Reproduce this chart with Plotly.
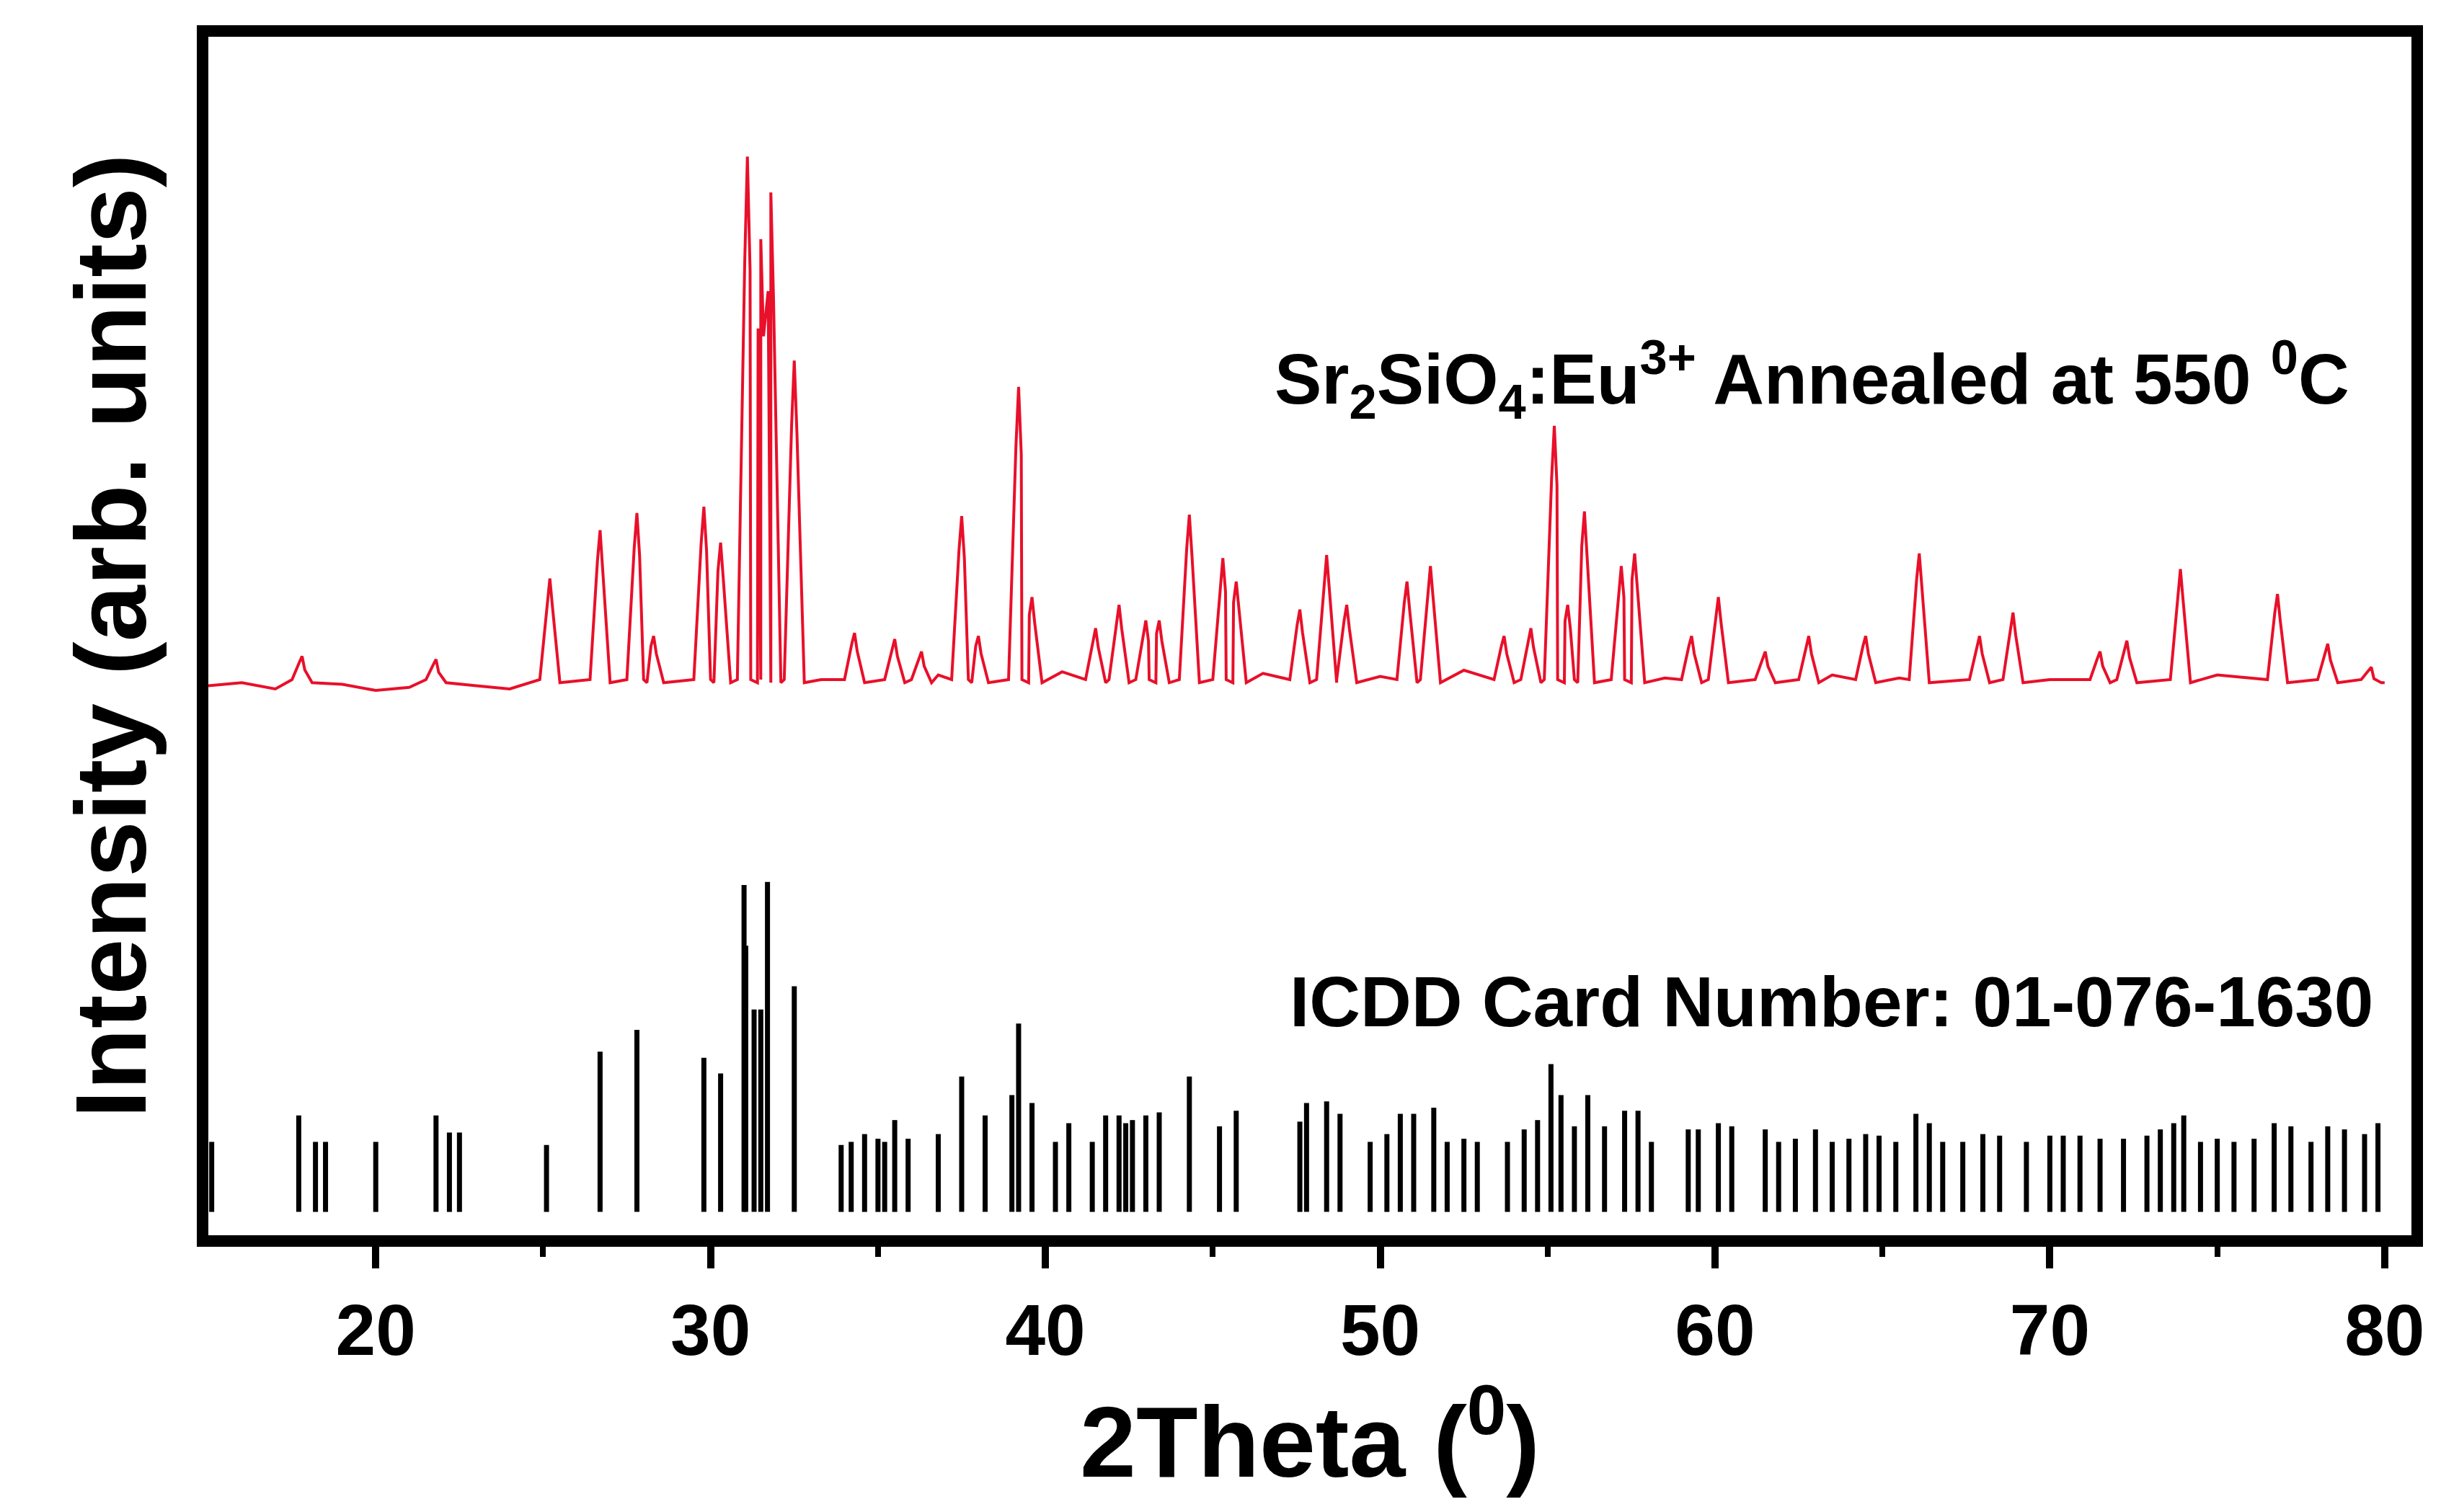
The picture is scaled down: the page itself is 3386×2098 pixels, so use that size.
import plotly.graph_objects as go

# measured pattern: peak positions (2theta) and heights, baseline level
baseline = 338
peak_pos = [17.8, 21.8, 25.2, 26.7, 27.8, 28.3, 29.8, 30.3, 31.1, 31.5, 31.8, 32.5,
            34.3, 35.5, 36.3, 37.5, 38.0, 39.2, 39.6, 41.5, 42.2, 43.0, 43.4, 44.3,
            45.3, 45.7, 47.6, 48.4, 49.0, 50.8, 51.5, 53.7, 54.5, 55.2, 55.6, 56.1,
            57.2, 57.6, 59.3, 60.1, 61.5, 62.8, 64.5, 66.1, 67.9, 68.9, 71.5, 72.3,
            73.9, 76.8, 78.3, 79.6]
peak_h = [357, 355, 407, 438, 449, 370, 453, 430, 678, 625, 655, 547,
          372, 368, 360, 447, 370, 530, 395, 375, 390, 380, 380, 448,
          420, 405, 387, 422, 390, 405, 415, 370, 375, 505, 390, 450,
          415, 423, 370, 395, 360, 370, 370, 423, 370, 385, 360, 367,
          413, 397, 365, 350]
noise_x = [15.0, 16.0, 17.0, 19.0, 20.0, 21.0, 23.0, 24.0, 33.3, 36.8, 40.5, 46.5,
           50.0, 52.5, 58.5, 63.5, 65.5, 70.0, 75.0, 80.0]
noise_y = [338, 340, 336, 339, 335, 337, 338, 336, 342, 345, 347, 346,
           344, 348, 343, 345, 343, 342, 345, 340]

# ICDD reference lines
icdd_pos = [15.1, 17.7, 18.2, 18.5, 20.0, 21.8, 22.2, 22.5, 25.1, 26.7, 27.8, 29.8,
            30.3, 31.0, 31.05, 31.3, 31.5, 31.7, 32.5, 33.9, 34.2, 34.6, 35.0, 35.2,
            35.5, 35.9, 36.8, 37.5, 38.2, 39.0, 39.2, 39.6, 40.3, 40.7, 41.4, 41.8,
            42.2, 42.4, 42.6, 43.0, 43.4, 44.3, 45.2, 45.7, 47.6, 47.8, 48.4, 48.8,
            49.7, 50.2, 50.6, 51.0, 51.6, 52.0, 52.5, 52.9, 53.8, 54.3, 54.7, 55.1,
            55.4, 55.8, 56.2, 56.7, 57.3, 57.7, 58.1, 59.2, 59.5, 60.1, 60.5, 61.5,
            61.9, 62.4, 63.0, 63.5, 64.0, 64.5, 64.9, 65.4, 66.0, 66.4, 66.8, 67.4,
            68.0, 68.5, 69.3, 70.0, 70.4, 70.9, 71.5, 72.2, 72.9, 73.3, 73.7, 74.0,
            74.5, 75.0, 75.5, 76.1, 76.7, 77.2, 77.8, 78.3, 78.8, 79.4, 79.8]
icdd_h = [45, 62, 45, 45, 45, 62, 51, 51, 43, 103, 117, 99,
          89, 210, 171, 130, 130, 212, 145, 43, 45, 50, 47, 45,
          59, 47, 50, 87, 62, 75, 121, 70, 45, 57, 45, 62,
          62, 57, 59, 62, 64, 87, 55, 65, 58, 70, 71, 63,
          45, 50, 63, 63, 67, 45, 47, 45, 45, 53, 59, 95,
          75, 55, 75, 55, 65, 65, 45, 53, 53, 57, 55, 53,
          45, 47, 53, 45, 47, 50, 49, 45, 63, 57, 45, 45,
          50, 49, 45, 49, 49, 49, 47, 47, 49, 53, 57, 62,
          45, 47, 45, 47, 57, 55, 45, 55, 53, 50, 57]

# build the red curve from baseline noise and peaks
pts = [(x, y) for x, y in zip(noise_x, noise_y)]
for p, h in zip(peak_pos, peak_h):
    s = baseline + 0.8 * (h - baseline)
    pts += [(p - 0.3, baseline + 4), (p - 0.08, s), (p, h), (p + 0.08, s - 5),
            (p + 0.3, baseline + 2)]
pts.sort()
rx = [p[0] for p in pts]
ry = [p[1] for p in pts]

sx, sy = [], []
for p, h in zip(icdd_pos, icdd_h):
    sx += [p, p, None]
    sy += [0, h, None]

fig = go.Figure()
fig.add_trace(go.Scatter(x=rx, y=ry, mode='lines',
                         line=dict(color='#e8102a', width=4)))
fig.add_trace(go.Scatter(x=sx, y=sy, mode='lines',
                         line=dict(color='black', width=7)))

font = "Liberation Sans, Arial, sans-serif"
fig.add_annotation(x=79.0, y=535, xanchor='right', yanchor='middle', showarrow=False,
                   text="<b>Sr<sub>2</sub>SiO<sub>4</sub>:Eu<sup>3+</sup> Annealed at 550 <sup>0</sup>C</b>",
                   font=dict(family=font, size=98, color='black'))
fig.add_annotation(x=79.7, y=135, xanchor='right', yanchor='middle', showarrow=False,
                   text="<b>ICDD Card Number: 01-076-1630</b>",
                   font=dict(family=font, size=98, color='black'))

fig.update_layout(
    width=3386, height=2098, showlegend=False,
    paper_bgcolor='white', plot_bgcolor='white',
    margin=dict(l=281, r=49, t=43, b=392),
    font=dict(family=font, color='black'),
    xaxis=dict(range=[15, 80.8], tickvals=[20, 30, 40, 50, 60, 70, 80],
               ticks='outside', ticklen=30, tickwidth=10, tickcolor='black',
               minor=dict(tickvals=[25, 35, 45, 55, 65, 75], ticks='outside',
                          ticklen=14, tickwidth=8, tickcolor='black'),
               showline=True, linewidth=16, linecolor='black', mirror=True,
               showgrid=False, zeroline=False,
               tickfont=dict(size=100, family=font, weight='bold'),
               title=dict(text="<b>2Theta (<sup>0</sup>)</b>", font=dict(size=140, family=font),
                          standoff=20)),
    yaxis=dict(range=[-15, 755], showticklabels=False, ticks='',
               showline=True, linewidth=16, linecolor='black', mirror=True,
               showgrid=False, zeroline=False,
               title=dict(text="<b>Intensity (arb. units)</b>", font=dict(size=140, family=font),
                          standoff=30)),
)

fig.write_html("out.html")
